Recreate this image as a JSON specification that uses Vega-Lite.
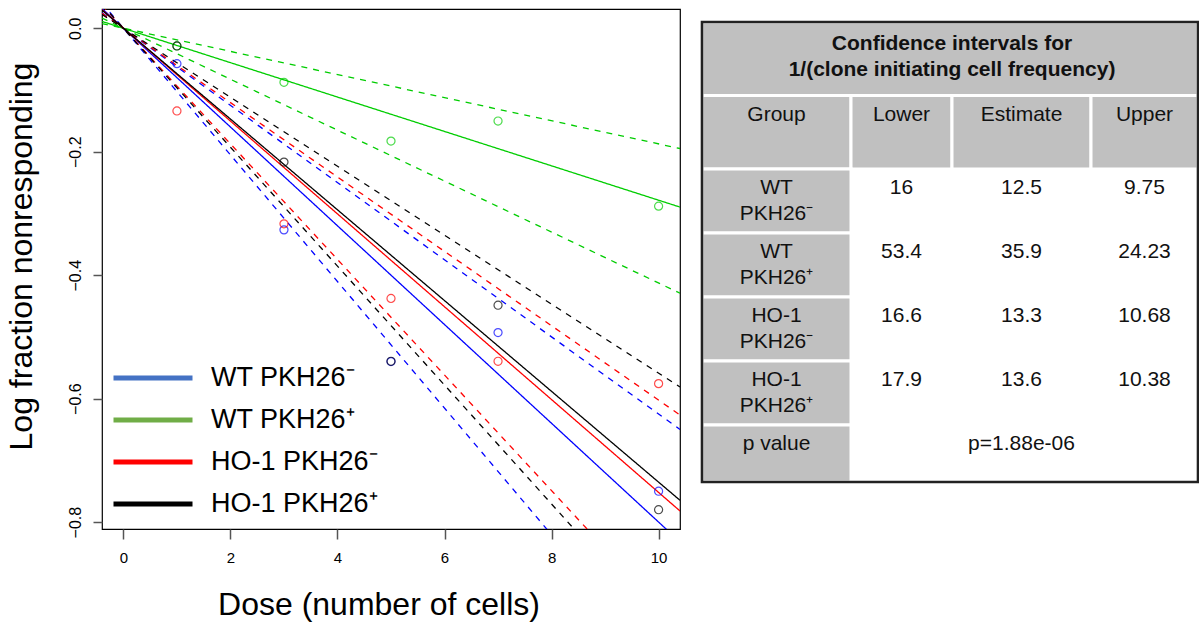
{
  "$schema": "https://vega.github.io/schema/vega-lite/v6.json",
  "background": "white",
  "padding": {"left": 4, "top": 8, "right": 0, "bottom": 0},
  "bounds": "flush",
  "spacing": 22,
  "config": {
    "font": "Liberation Sans",
    "view": {"stroke": "#000000", "strokeWidth": 1.2},
    "axis": {"grid": false, "domain": false, "labelFont": "Liberation Sans", "titleFont": "Liberation Sans", "labelColor": "#000000", "titleColor": "#000000", "titleFontWeight": "normal", "tickColor": "#555555", "tickWidth": 1.5, "labelFlush": false, "labelOverlap": false}
  },
  "datasets": {
    "lines": [
      {"group": "WT PKH26⁻", "kind": "fit", "line": "WTm-fit", "dose": -0.4, "logfrac": 0.032},
      {"group": "WT PKH26⁻", "kind": "fit", "line": "WTm-fit", "dose": 10.4, "logfrac": -0.832},
      {"group": "WT PKH26⁻", "kind": "ci", "line": "WTm-lo", "dose": -0.4, "logfrac": 0.025},
      {"group": "WT PKH26⁻", "kind": "ci", "line": "WTm-lo", "dose": 10.4, "logfrac": -0.65},
      {"group": "WT PKH26⁻", "kind": "ci", "line": "WTm-hi", "dose": -0.4, "logfrac": 0.041},
      {"group": "WT PKH26⁻", "kind": "ci", "line": "WTm-hi", "dose": 10.4, "logfrac": -1.0667},
      {"group": "WT PKH26⁺", "kind": "fit", "line": "WTp-fit", "dose": -0.4, "logfrac": 0.0111},
      {"group": "WT PKH26⁺", "kind": "fit", "line": "WTp-fit", "dose": 10.4, "logfrac": -0.2897},
      {"group": "WT PKH26⁺", "kind": "ci", "line": "WTp-lo", "dose": -0.4, "logfrac": 0.0075},
      {"group": "WT PKH26⁺", "kind": "ci", "line": "WTp-lo", "dose": 10.4, "logfrac": -0.1948},
      {"group": "WT PKH26⁺", "kind": "ci", "line": "WTp-hi", "dose": -0.4, "logfrac": 0.0165},
      {"group": "WT PKH26⁺", "kind": "ci", "line": "WTp-hi", "dose": 10.4, "logfrac": -0.4292},
      {"group": "HO-1 PKH26⁻", "kind": "fit", "line": "HOm-fit", "dose": -0.4, "logfrac": 0.0301},
      {"group": "HO-1 PKH26⁻", "kind": "fit", "line": "HOm-fit", "dose": 10.4, "logfrac": -0.782},
      {"group": "HO-1 PKH26⁻", "kind": "ci", "line": "HOm-lo", "dose": -0.4, "logfrac": 0.0241},
      {"group": "HO-1 PKH26⁻", "kind": "ci", "line": "HOm-lo", "dose": 10.4, "logfrac": -0.6265},
      {"group": "HO-1 PKH26⁻", "kind": "ci", "line": "HOm-hi", "dose": -0.4, "logfrac": 0.0375},
      {"group": "HO-1 PKH26⁻", "kind": "ci", "line": "HOm-hi", "dose": 10.4, "logfrac": -0.9738},
      {"group": "HO-1 PKH26⁺", "kind": "fit", "line": "HOp-fit", "dose": -0.4, "logfrac": 0.0294},
      {"group": "HO-1 PKH26⁺", "kind": "fit", "line": "HOp-fit", "dose": 10.4, "logfrac": -0.7647},
      {"group": "HO-1 PKH26⁺", "kind": "ci", "line": "HOp-lo", "dose": -0.4, "logfrac": 0.0223},
      {"group": "HO-1 PKH26⁺", "kind": "ci", "line": "HOp-lo", "dose": 10.4, "logfrac": -0.581},
      {"group": "HO-1 PKH26⁺", "kind": "ci", "line": "HOp-hi", "dose": -0.4, "logfrac": 0.0385},
      {"group": "HO-1 PKH26⁺", "kind": "ci", "line": "HOp-hi", "dose": 10.4, "logfrac": -1.0019}
    ],
    "points": [
      {"group": "WT PKH26⁻", "dose": 1, "logfrac": -0.0574},
      {"group": "WT PKH26⁻", "dose": 3, "logfrac": -0.3266},
      {"group": "WT PKH26⁻", "dose": 5, "logfrac": -0.54},
      {"group": "WT PKH26⁻", "dose": 7, "logfrac": -0.493},
      {"group": "WT PKH26⁻", "dose": 10, "logfrac": -0.75},
      {"group": "WT PKH26⁺", "dose": 1, "logfrac": -0.0287},
      {"group": "WT PKH26⁺", "dose": 3, "logfrac": -0.0876},
      {"group": "WT PKH26⁺", "dose": 5, "logfrac": -0.1828},
      {"group": "WT PKH26⁺", "dose": 7, "logfrac": -0.1503},
      {"group": "WT PKH26⁺", "dose": 10, "logfrac": -0.2882},
      {"group": "HO-1 PKH26⁻", "dose": 1, "logfrac": -0.134},
      {"group": "HO-1 PKH26⁻", "dose": 3, "logfrac": -0.3168},
      {"group": "HO-1 PKH26⁻", "dose": 5, "logfrac": -0.4377},
      {"group": "HO-1 PKH26⁻", "dose": 7, "logfrac": -0.5395},
      {"group": "HO-1 PKH26⁻", "dose": 10, "logfrac": -0.5757},
      {"group": "HO-1 PKH26⁺", "dose": 1, "logfrac": -0.0287},
      {"group": "HO-1 PKH26⁺", "dose": 3, "logfrac": -0.2168},
      {"group": "HO-1 PKH26⁺", "dose": 5, "logfrac": -0.5395},
      {"group": "HO-1 PKH26⁺", "dose": 7, "logfrac": -0.4487},
      {"group": "HO-1 PKH26⁺", "dose": 10, "logfrac": -0.78}
    ],
    "keys": [
      {"group": "WT PKH26⁻", "dose": 0, "logfrac": 0},
      {"group": "WT PKH26⁺", "dose": 0, "logfrac": 0},
      {"group": "HO-1 PKH26⁻", "dose": 0, "logfrac": 0},
      {"group": "HO-1 PKH26⁺", "dose": 0, "logfrac": 0}
    ],
    "cells": [
      {"c0": 0, "c1": 4, "r0": 0, "r1": 1},
      {"c0": 0, "c1": 1, "r0": 1, "r1": 2},
      {"c0": 1, "c1": 2, "r0": 1, "r1": 2},
      {"c0": 2, "c1": 3, "r0": 1, "r1": 2},
      {"c0": 3, "c1": 4, "r0": 1, "r1": 2},
      {"c0": 0, "c1": 1, "r0": 2, "r1": 3},
      {"c0": 0, "c1": 1, "r0": 3, "r1": 4},
      {"c0": 0, "c1": 1, "r0": 4, "r1": 5},
      {"c0": 0, "c1": 1, "r0": 5, "r1": 6},
      {"c0": 0, "c1": 1, "r0": 6, "r1": 7}
    ],
    "frame": [{"c0": 0, "c1": 4, "r0": 0, "r1": 7}],
    "tabletitle": [{"cx": 2, "r0": 0, "label": "Confidence intervals for\n1/(clone initiating  cell frequency)"}],
    "texts": [
      {"cx": 0.5, "r0": 1, "label": "Group"},
      {"cx": 1.5, "r0": 1, "label": "Lower"},
      {"cx": 2.5, "r0": 1, "label": "Estimate"},
      {"cx": 3.5, "r0": 1, "label": "Upper"},
      {"cx": 0.5, "r0": 2, "label": "WT\nPKH26⁻"},
      {"cx": 1.5, "r0": 2, "label": "16"},
      {"cx": 2.5, "r0": 2, "label": "12.5"},
      {"cx": 3.5, "r0": 2, "label": "9.75"},
      {"cx": 0.5, "r0": 3, "label": "WT\nPKH26⁺"},
      {"cx": 1.5, "r0": 3, "label": "53.4"},
      {"cx": 2.5, "r0": 3, "label": "35.9"},
      {"cx": 3.5, "r0": 3, "label": "24.23"},
      {"cx": 0.5, "r0": 4, "label": "HO-1\nPKH26⁻"},
      {"cx": 1.5, "r0": 4, "label": "16.6"},
      {"cx": 2.5, "r0": 4, "label": "13.3"},
      {"cx": 3.5, "r0": 4, "label": "10.68"},
      {"cx": 0.5, "r0": 5, "label": "HO-1\nPKH26⁺"},
      {"cx": 1.5, "r0": 5, "label": "17.9"},
      {"cx": 2.5, "r0": 5, "label": "13.6"},
      {"cx": 3.5, "r0": 5, "label": "10.38"},
      {"cx": 0.5, "r0": 6, "label": "p value"},
      {"cx": 2.5, "r0": 6, "label": "p=1.88e-06"}
    ]
  },
  "hconcat": [
    {
      "width": 578,
      "height": 520,
      "layer": [
        {
          "data": {"name": "lines"},
          "mark": {"type": "line", "clip": true, "strokeWidth": 1.3},
          "encoding": {
            "x": {"field": "dose", "type": "quantitative", "scale": {"domain": [-0.4, 10.4], "nice": false, "zero": false},
              "axis": {"values": [0, 2, 4, 6, 8, 10], "tickSize": 10, "labelFontSize": 15, "labelPadding": 23, "labelBaseline": "alphabetic",
                "title": "Dose (number of cells)", "titleFontSize": 32, "titleX": 276.5, "titleY": 85.6, "titleBaseline": "alphabetic", "titleAlign": "center", "titleAnchor": "middle"}},
            "y": {"field": "logfrac", "type": "quantitative", "scale": {"domain": [-0.8112, 0.0312], "nice": false, "zero": false},
              "axis": {"values": [-0.8, -0.6, -0.4, -0.2, 0], "format": ".1f", "tickSize": 9, "labelAngle": 270, "labelAlign": "center", "labelBaseline": "alphabetic", "labelFontSize": 16, "labelPadding": 13,
                "title": "Log fraction nonresponding", "titleFontSize": 32, "titleAngle": 270, "titleX": -71, "titleY": 247, "titleAlign": "center", "titleBaseline": "alphabetic", "titleAnchor": "middle"}},
            "stroke": {"condition": [
              {"test": "datum.group === 'WT PKH26⁻'", "value": "#0000FF"},
              {"test": "datum.group === 'WT PKH26⁺'", "value": "#00CD00"},
              {"test": "datum.group === 'HO-1 PKH26⁻'", "value": "#FF0000"}
            ], "value": "#000000"},
            "strokeDash": {"field": "kind", "type": "nominal", "scale": {"domain": ["fit", "ci"], "range": [[1, 0], [6, 6]]}, "legend": null},
            "detail": {"field": "line", "type": "nominal"}
          }
        },
        {
          "data": {"name": "points"},
          "mark": {"type": "point", "shape": "circle", "filled": false, "size": 65, "strokeWidth": 1.2},
          "encoding": {
            "x": {"field": "dose", "type": "quantitative", "scale": {"domain": [-0.4, 10.4], "nice": false, "zero": false}},
            "y": {"field": "logfrac", "type": "quantitative", "scale": {"domain": [-0.8112, 0.0312], "nice": false, "zero": false}},
            "stroke": {"condition": [
              {"test": "datum.group === 'WT PKH26⁻'", "value": "#0000FF"},
              {"test": "datum.group === 'WT PKH26⁺'", "value": "#00CD00"},
              {"test": "datum.group === 'HO-1 PKH26⁻'", "value": "#FF0000"}
            ], "value": "#000000"}
          }
        },
        {
          "data": {"name": "keys"},
          "mark": {"type": "line", "strokeWidth": 5},
          "encoding": {
            "x": {"field": "dose", "type": "quantitative", "scale": {"domain": [-0.4, 10.4], "nice": false, "zero": false}},
            "y": {"field": "logfrac", "type": "quantitative", "scale": {"domain": [-0.8112, 0.0312], "nice": false, "zero": false}},
            "color": {"field": "group", "type": "nominal",
              "scale": {"domain": ["WT PKH26⁻", "WT PKH26⁺", "HO-1 PKH26⁻", "HO-1 PKH26⁺"], "range": ["#4472C4", "#70AD47", "#FF0000", "#000000"]},
              "legend": {"orient": "none", "legendX": 9, "legendY": 350, "title": null, "symbolType": "stroke", "symbolSize": 6241, "symbolStrokeWidth": 5,
                "labelFontSize": 27, "labelFont": "Liberation Sans", "labelColor": "#000000", "labelOffset": 16, "clipHeight": 38, "rowPadding": 4, "padding": 0, "labelLimit": 400, "labelBaseline": "middle"}}
          }
        }
      ]
    },
    {
      "width": 496,
      "height": 520,
      "view": {"stroke": null},
      "layer": [
        {
          "data": {"name": "cells"},
          "mark": {"type": "rect", "fill": "#C0C0C0", "stroke": "#FFFFFF", "strokeWidth": 3},
          "encoding": {
            "x": {"field": "c0", "type": "quantitative", "scale": {"domain": [0, 1, 2, 3, 4], "range": [0, 149, 250, 389, 496], "nice": false, "zero": false}, "axis": null},
            "x2": {"field": "c1"},
            "y": {"field": "r0", "type": "quantitative", "scale": {"domain": [0, 1, 2, 3, 4, 5, 6, 7], "range": [13, 86.5, 160, 224, 288, 352, 416, 473], "nice": false, "zero": false}, "axis": null},
            "y2": {"field": "r1"}
          }
        },
        {
          "data": {"name": "tabletitle"},
          "mark": {"type": "text", "align": "center", "baseline": "top", "fontSize": 21, "fontWeight": "bold", "lineBreak": "\n", "lineHeight": 26, "dy": 10.7, "color": "#111111"},
          "encoding": {
            "x": {"field": "cx", "type": "quantitative", "scale": {"domain": [0, 1, 2, 3, 4], "range": [0, 149, 250, 389, 496], "nice": false, "zero": false}, "axis": null},
            "y": {"field": "r0", "type": "quantitative", "scale": {"domain": [0, 1, 2, 3, 4, 5, 6, 7], "range": [13, 86.5, 160, 224, 288, 352, 416, 473], "nice": false, "zero": false}, "axis": null},
            "text": {"field": "label"}
          }
        },
        {
          "data": {"name": "texts"},
          "mark": {"type": "text", "align": "center", "baseline": "top", "fontSize": 21, "lineBreak": "\n", "lineHeight": 26, "dy": 8.4, "color": "#111111"},
          "encoding": {
            "x": {"field": "cx", "type": "quantitative", "scale": {"domain": [0, 1, 2, 3, 4], "range": [0, 149, 250, 389, 496], "nice": false, "zero": false}, "axis": null},
            "y": {"field": "r0", "type": "quantitative", "scale": {"domain": [0, 1, 2, 3, 4, 5, 6, 7], "range": [13, 86.5, 160, 224, 288, 352, 416, 473], "nice": false, "zero": false}, "axis": null},
            "text": {"field": "label"}
          }
        },
        {
          "data": {"name": "frame"},
          "mark": {"type": "rect", "fill": null, "fillOpacity": 0, "stroke": "#222222", "strokeWidth": 2.6},
          "encoding": {
            "x": {"field": "c0", "type": "quantitative", "scale": {"domain": [0, 1, 2, 3, 4], "range": [0, 149, 250, 389, 496], "nice": false, "zero": false}, "axis": null},
            "x2": {"field": "c1"},
            "y": {"field": "r0", "type": "quantitative", "scale": {"domain": [0, 1, 2, 3, 4, 5, 6, 7], "range": [13, 86.5, 160, 224, 288, 352, 416, 473], "nice": false, "zero": false}, "axis": null},
            "y2": {"field": "r1"}
          }
        }
      ]
    }
  ]
}
